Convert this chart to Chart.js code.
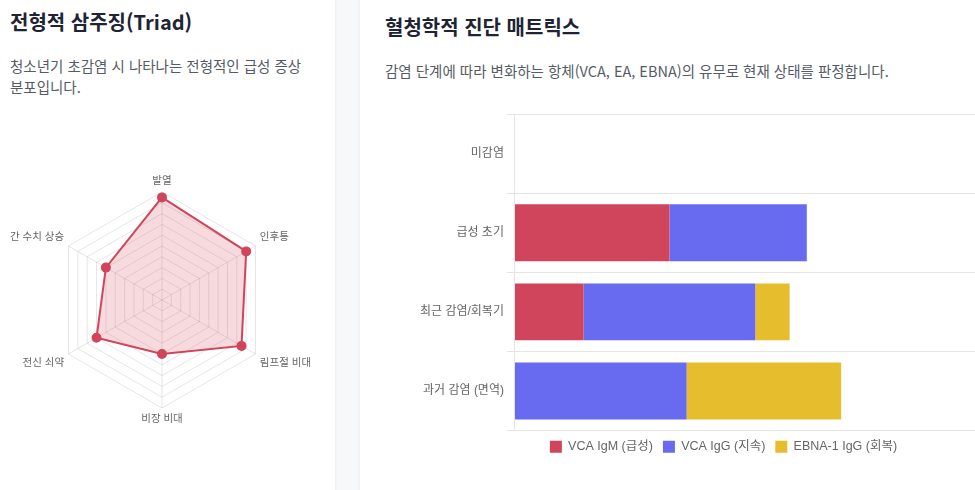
<!DOCTYPE html>
<html lang="ko">
<head>
<meta charset="utf-8">
<script src="https://cdn.jsdelivr.net/npm/chart.js@4.4.1/dist/chart.umd.min.js"></script>
<style>
  html, body { margin:0; padding:0; width:975px; height:490px; overflow:hidden; background:#f7f8fa; font-family:"Noto Sans CJK KR","Noto Sans",sans-serif; }
  .card { position:absolute; background:#fff; box-shadow:0 1px 3px rgba(0,0,0,0.08); }
  #left { left:-20px; top:-20px; width:355px; height:540px; }
  #right { left:360px; top:-20px; width:760px; height:540px; }
  h2 { position:absolute; margin:0; font-size:20px; font-weight:700; color:#1e2433; line-height:28px; white-space:nowrap; }
  p { position:absolute; margin:0; font-size:14.5px; color:#555b66; line-height:21px; word-break:keep-all; }
  .cv { position:absolute; }
</style>
</head>
<body>
<div class="card" id="left">
  <h2 style="left:30px; top:28px;">전형적 삼주징(Triad)</h2>
  <p style="left:30px; top:74.5px; width:305px;">청소년기 초감염 시 나타나는 전형적인 급성 증상 분포입니다.</p>
  <div class="cv" style="left:29px; top:192px; width:304px; height:258px;"><canvas id="radar"></canvas></div>
</div>
<div class="card" id="right">
  <h2 style="left:25px; top:33px;">혈청학적 진단 매트릭스</h2>
  <p style="left:25px; top:80px; white-space:nowrap;">감염 단계에 따라 변화하는 항체(VCA, EA, EBNA)의 유무로 현재 상태를 판정합니다.</p>
  <div class="cv" style="left:57px; top:124px; width:613px; height:359px;"><canvas id="bar"></canvas></div>
</div>
<script>
const symptomLabels = ['발열', '인후통', '림프절 비대', '비장 비대', '전신 쇠약', '간 수치 상승'];
const symptomValues = [95, 90, 85, 50, 70, 60];

const stageLabels = ['미감염', '급성 초기', '최근 감염/회복기', '과거 감염 (면역)'];
const vcaIgM = [0, 90, 40, 0];
const vcaIgG = [0, 80, 100, 100];
const ebnaIgG = [0, 0, 20, 90];

const RED = 'rgb(208,69,91)';
const BLUE = 'rgb(104,107,240)';
const YELLOW = 'rgb(230,189,45)';

Chart.defaults.font.family = "Arial, 'Liberation Sans', 'Noto Sans CJK KR', sans-serif";

new Chart(document.getElementById('radar'), {
  type: 'radar',
  data: {
    labels: symptomLabels,
    datasets: [{
      data: symptomValues,
      borderColor: RED,
      backgroundColor: 'rgba(208,69,91,0.2)',
      borderWidth: 2,
      pointBackgroundColor: RED,
      pointBorderColor: RED,
      pointRadius: 4
    }]
  },
  options: {
    responsive: true,
    maintainAspectRatio: false,
    animation: false,
    plugins: { legend: { display: false }, tooltip: { enabled: false } },
    scales: {
      r: {
        min: 0, max: 100,
        ticks: { display: false, stepSize: 10 },
        pointLabels: { font: { size: 10.5 }, color: '#666' },
        grid: { color: 'rgba(0,0,0,0.1)' },
        angleLines: { color: 'rgba(0,0,0,0.1)' }
      }
    }
  }
});

new Chart(document.getElementById('bar'), {
  type: 'bar',
  data: {
    labels: stageLabels,
    datasets: [
      { label: 'VCA IgM (급성)', data: vcaIgM, backgroundColor: RED },
      { label: 'VCA IgG (지속)', data: vcaIgG, backgroundColor: BLUE },
      { label: 'EBNA-1 IgG (회복)', data: ebnaIgG, backgroundColor: YELLOW }
    ]
  },
  options: {
    indexAxis: 'y',
    responsive: true,
    maintainAspectRatio: false,
    animation: false,
    plugins: {
      legend: { position: 'bottom', labels: { boxWidth: 12, boxHeight: 12, font: { size: 12.5 }, color: '#666' } },
      tooltip: { enabled: false }
    },
    scales: {
      x: { stacked: true, display: false, min: 0, max: 300 },
      y: { stacked: true, ticks: { font: { size: 12 }, color: '#666' } }
    }
  }
});
</script>
</body>
</html>
